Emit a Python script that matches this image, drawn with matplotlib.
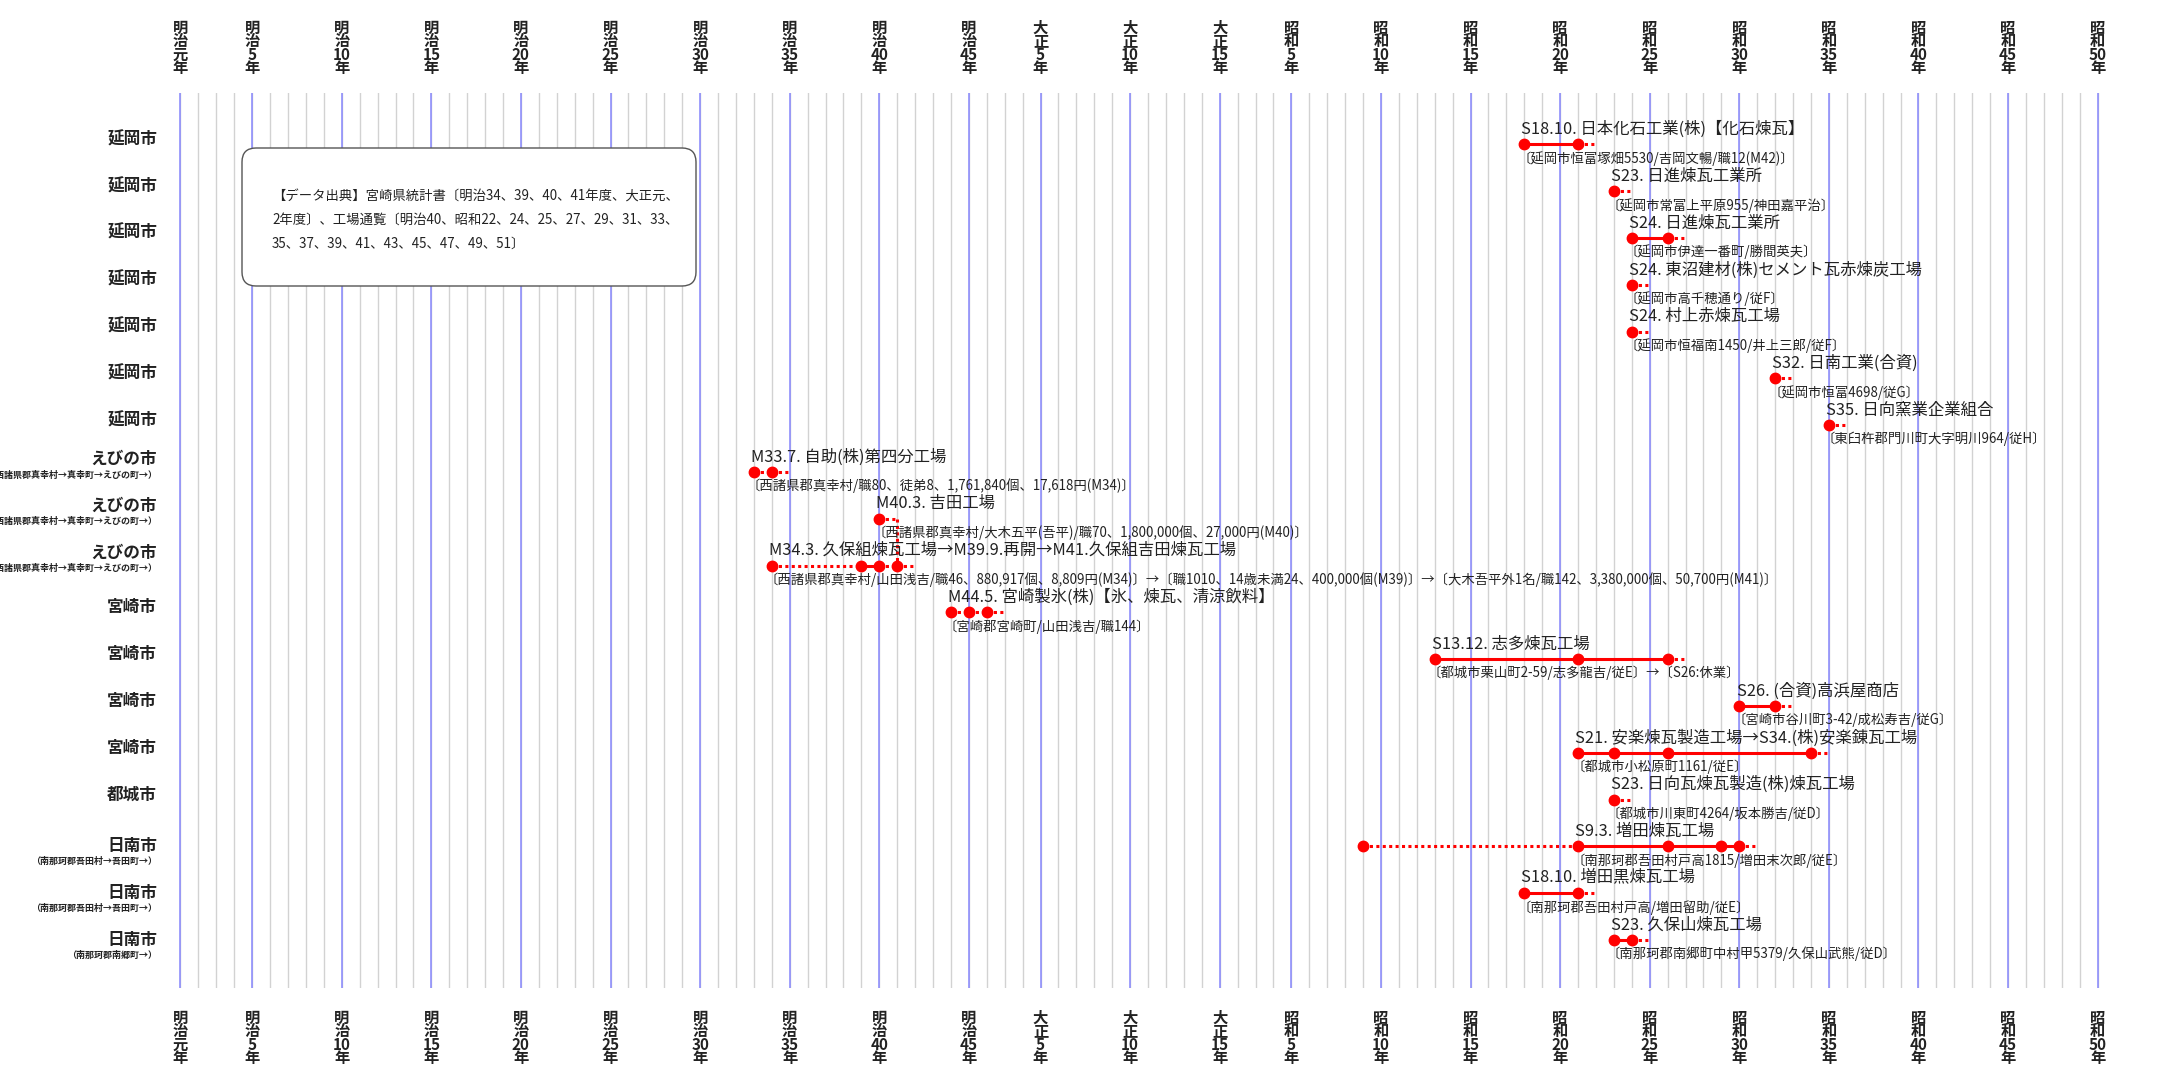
import matplotlib.pyplot as plt
from matplotlib.patches import FancyBboxPatch
from matplotlib.transforms import blended_transform_factory

plt.rcParams['font.family'] = ['Noto Sans CJK JP', 'DejaVu Sans']

# Year axis: Meiji 1 (1868) .. Showa 50 (1975)
first_year, last_year = 1868, 1975
tick_years = [1868, 1872, 1877, 1882, 1887, 1892, 1897, 1902, 1907, 1912,
              1916, 1921, 1926, 1930, 1935, 1940, 1945, 1950, 1955, 1960,
              1965, 1970, 1975]
tick_labels = ['明治元年', '明治5年', '明治10年', '明治15年', '明治20年', '明治25年',
               '明治30年', '明治35年', '明治40年', '明治45年', '大正5年', '大正10年',
               '大正15年', '昭和5年', '昭和10年', '昭和15年', '昭和20年', '昭和25年',
               '昭和30年', '昭和35年', '昭和40年', '昭和45年', '昭和50年']

# One row per factory, top to bottom
cities = ['延岡市'] * 7 + ['えびの市'] * 3 + ['宮崎市'] * 4 + ['都城市'] + ['日南市'] * 3
old_names = [''] * 7 + ['（西諸県郡真幸村→真幸町→えびの町→）'] * 3 + [''] * 5 \
    + ['（南那珂郡吾田村→吾田町→）'] * 2 + ['（南那珂郡南郷町→）']

titles = [
    'S18.10. 日本化石工業(株)【化石煉瓦】',
    'S23. 日進煉瓦工業所',
    'S24. 日進煉瓦工業所',
    'S24. 東沼建材(株)セメント瓦赤煉炭工場',
    'S24. 村上赤煉瓦工場',
    'S32. 日南工業(合資)',
    'S35. 日向窯業企業組合',
    'M33.7. 自助(株)第四分工場',
    'M40.3. 吉田工場',
    'M34.3. 久保組煉瓦工場→M39.9.再開→M41.久保組吉田煉瓦工場',
    'M44.5. 宮崎製氷(株)【氷、煉瓦、清涼飲料】',
    'S13.12. 志多煉瓦工場',
    'S26. (合資)高浜屋商店',
    'S21. 安楽煉瓦製造工場→S34.(株)安楽錬瓦工場',
    'S23. 日向瓦煉瓦製造(株)煉瓦工場',
    'S9.3. 増田煉瓦工場',
    'S18.10. 増田黒煉瓦工場',
    'S23. 久保山煉瓦工場',
]
details = [
    '〔延岡市恒富塚畑5530/吉岡文暢/職12(M42)〕',
    '〔延岡市常富上平原955/神田嘉平治〕',
    '〔延岡市伊達一番町/勝間英夫〕',
    '〔延岡市高千穂通り/従F〕',
    '〔延岡市恒福南1450/井上三郎/従F〕',
    '〔延岡市恒富4698/従G〕',
    '〔東臼杵郡門川町大字明川964/従H〕',
    '〔西諸県郡真幸村/職80、徒弟8、1,761,840個、17,618円(M34)〕',
    '〔西諸県郡真幸村/大木五平(吾平)/職70、1,800,000個、27,000円(M40)〕',
    '〔西諸県郡真幸村/山田浅吉/職46、880,917個、8,809円(M34)〕→〔職1010、14歳未満24、'
    '400,000個(M39)〕→〔大木吾平外1名/職142、3,380,000個、50,700円(M41)〕',
    '〔宮崎郡宮崎町/山田浅吉/職144〕',
    '〔都城市栗山町2-59/志多龍吉/従E〕→〔S26:休業〕',
    '〔宮崎市谷川町3-42/成松寿吉/従G〕',
    '〔都城市小松原町1161/従E〕',
    '〔都城市川東町4264/坂本勝吉/従D〕',
    '〔南那珂郡吾田村戸高1815/増田末次郎/従E〕',
    '〔南那珂郡吾田村戸高/増田留助/従E〕',
    '〔南那珂郡南郷町中村甲5379/久保山武熊/従D〕',
]

# years where the factory is recorded
dot_years = [
    [1943, 1946], [1948], [1949, 1951], [1949], [1949], [1957], [1960],
    [1900, 1901], [1907], [1901, 1906, 1907, 1908], [1911, 1912, 1913],
    [1938, 1946, 1951], [1955, 1957], [1946, 1948, 1951, 1959], [1948],
    [1934, 1946, 1951, 1954, 1955], [1943, 1946], [1948, 1949],
]
# link between consecutive records: s = continuous, d = uncertain
links = ['s', '', 's', '', '', '', '', 'd', '', 'dsd', 'dd',
         'ss', 's', 'sss', '', 'dsss', 's', 's']
# year where the caption starts
text_years = [1943, 1948, 1949, 1949, 1949, 1957, 1960, 1900, 1907, 1901, 1911,
              1938, 1955, 1946, 1948, 1946, 1943, 1948]
# (from row, to row, year): business taken over by another row
transfers = [(8, 9, 1908)]

source_lines = [
    '【データ出典】宮崎県統計書〔明治34、39、40、41年度、大正元、',
    '2年度〕、工場通覧〔明治40、昭和22、24、25、27、29、31、33、',
    '35、37、39、41、43、45、47、49、51〕',
]

# ---- layout (figure pixels) ----
W, H = 2166, 1072
px_per_year = 17.917
x0_px = 180.5  # pixel of 1868
row0_px, row_px = 144.4, 46.8

fig = plt.figure(figsize=(W / 100, H / 100), dpi=100)
ax = fig.add_axes([170 / W, 1 - 988 / H, 1940 / W, 895 / H])
ax.set_xlim(first_year + (170 - x0_px) / px_per_year, first_year + (2110 - x0_px) / px_per_year)
ax.set_ylim((988 - row0_px) / row_px, (93 - row0_px) / row_px)
ax.axis('off')

# grid: grey each year, blue at labelled years
for yr in range(first_year, last_year + 1):
    ax.axvline(yr, color='#d2d2d2', lw=1.0, zorder=0)
for yr in tick_years:
    ax.axvline(yr, color='#8888ff', lw=1.1, zorder=0.5)

# era labels top and bottom
tr_top = blended_transform_factory(ax.transData, fig.transFigure)
for yr, lbl in zip(tick_years, tick_labels):
    txt = '\n'.join([lbl[0], lbl[1], lbl[2:-1], lbl[-1]])
    for yc in (48, 1038):
        ax.text(yr, 1 - yc / H, txt, transform=tr_top, ha='center', va='center',
                fontsize=11, fontweight='bold', linespacing=0.79, color='#222',
                clip_on=False)

# row labels on the left
tr_lab = blended_transform_factory(fig.transFigure, ax.transData)
label_shift = {'えびの市': (13, -3), '日南市': (0, -15)}
for i, (city, old) in enumerate(zip(cities, old_names)):
    if old:
        dy_main, dy_sub = label_shift[city]
        ax.annotate(old, xy=(157 / W, i), xycoords=tr_lab, xytext=(0, dy_sub * 0.72),
                    textcoords='offset points', ha='right', va='center', fontsize=6.5,
                    fontweight='bold', color='#222', annotation_clip=False)
    else:
        dy_main = 5
    ax.annotate(city, xy=(157 / W, i), xycoords=tr_lab, xytext=(0, dy_main * 0.72),
                textcoords='offset points', ha='right', va='center', fontsize=12,
                fontweight='bold', color='#222', annotation_clip=False)

# timelines
red = '#ff0000'
for i, yrs in enumerate(dot_years):
    for k, code in enumerate(links[i]):
        ls = '-' if code == 's' else (0, (1, 1.1))
        ax.plot([yrs[k], yrs[k + 1]], [i, i], color=red, lw=2.2, ls=ls, zorder=3)
    ax.plot([yrs[-1], yrs[-1] + 0.95], [i, i], color=red, lw=2.2, ls=(0, (1, 1.1)), zorder=3)
    ax.plot(yrs, [i] * len(yrs), 'o', color=red, ms=7.5, zorder=4)
for r_from, r_to, yr in transfers:
    ax.plot([yr, yr], [r_from, r_to], color=red, lw=2.2, ls=(0, (1, 1.1)), zorder=3)

# captions
for i, (t, d, tx) in enumerate(zip(titles, details, text_years)):
    ax.annotate(t, xy=(tx, i), xytext=(-2, 15 * 0.72), textcoords='offset points',
                ha='left', va='center', fontsize=11.8, color='#222', zorder=5)
    ax.annotate(d, xy=(tx, i), xytext=(-5, -14 * 0.72), textcoords='offset points',
                ha='left', va='center', fontsize=9.6, color='#222', zorder=5)

# data source note
box = FancyBboxPatch((2.42, (H - 286) / 100), 4.54, 1.38,
                     boxstyle='round,pad=0,rounding_size=0.14',
                     transform=fig.dpi_scale_trans, fc='white', ec='#555', lw=1.0, zorder=2)
fig.add_artist(box)
for line, yc in zip(source_lines, (197, 220, 244)):
    fig.text(2.72, (H - yc) / 100, line, transform=fig.dpi_scale_trans, va='center',
             fontsize=9.6, color='#222', zorder=3)

fig.savefig('out.png', dpi=100)
